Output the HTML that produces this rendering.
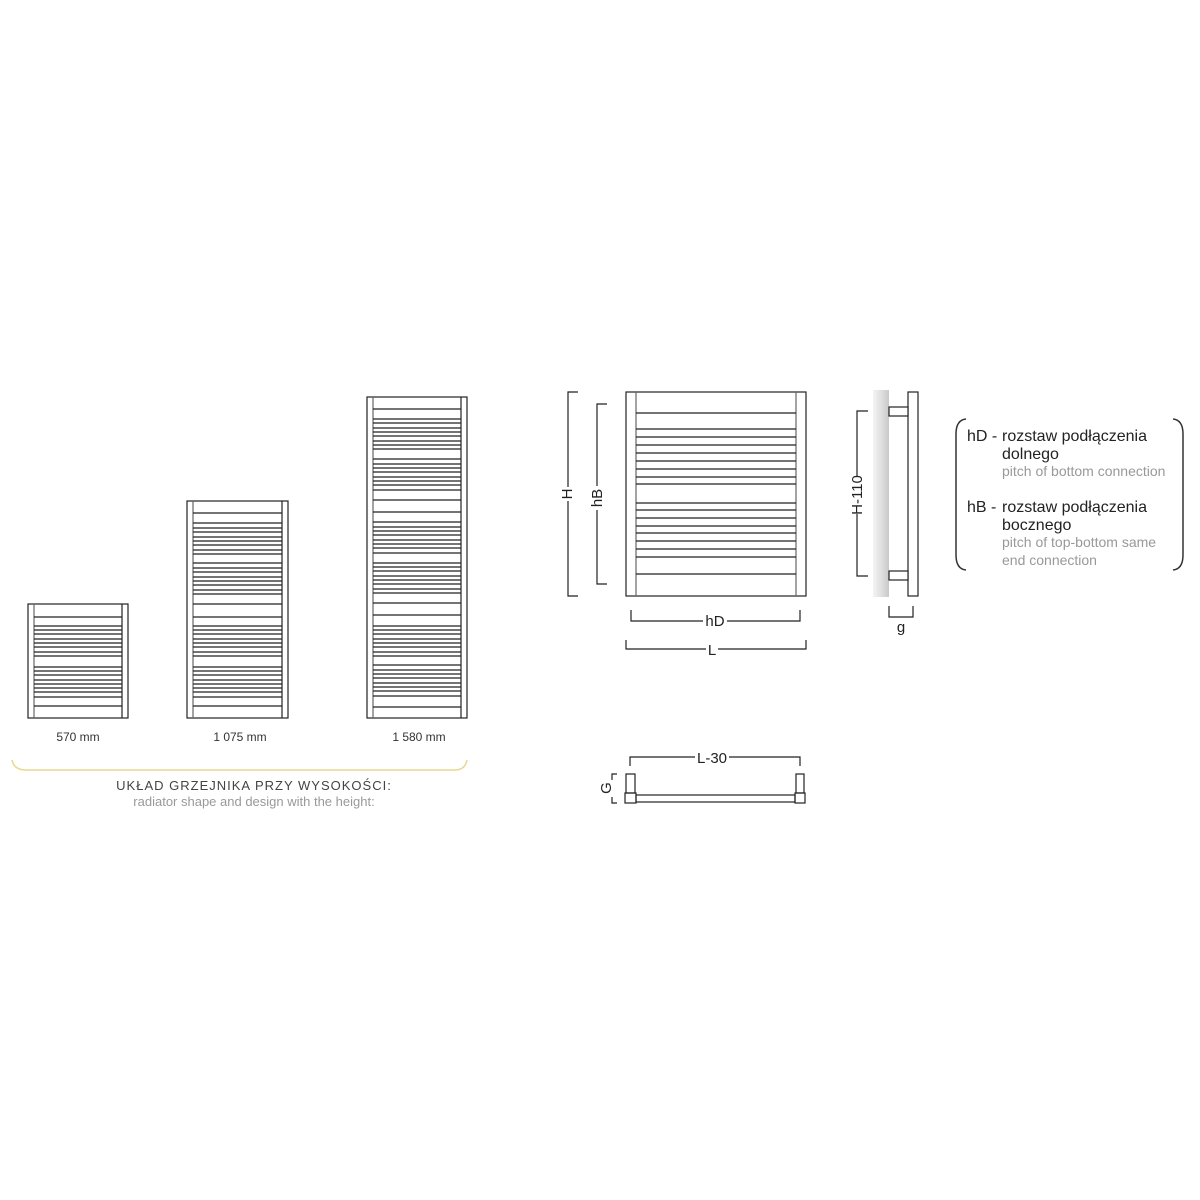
<!DOCTYPE html>
<html><head><meta charset="utf-8"><style>
html,body{margin:0;padding:0;background:#fff;}
svg{display:block;}
text{font-family:"Liberation Sans",sans-serif;}
</style></head><body>
<svg width="1200" height="1200" viewBox="0 0 1200 1200" xmlns="http://www.w3.org/2000/svg">
<defs>
<linearGradient id="wall" x1="0" x2="1" y1="0" y2="0">
<stop offset="0" stop-color="#f4f4f4"/><stop offset="0.6" stop-color="#dcdcdc"/><stop offset="1" stop-color="#c8c8c8"/>
</linearGradient>
</defs>
<rect width="1200" height="1200" fill="#fff"/>
<g fill="none" stroke="#222" stroke-width="1.2">
<rect x="28" y="604" width="100" height="114"/>
<line x1="34" y1="604" x2="34" y2="718" stroke="#666"/>
<line x1="122" y1="604" x2="122" y2="718"/>
<path d="M34 617H122M34 626H122M34 630H122M34 634H122M34 639H122M34 643H122M34 647H122M34 652H122M34 656H122M34 667H122M34 671H122M34 675H122M34 680H122M34 684H122M34 688H122M34 692H122M34 697H122M34 706H122"/>
<rect x="187" y="501" width="101" height="217"/>
<line x1="193" y1="501" x2="193" y2="718" stroke="#666"/>
<line x1="282" y1="501" x2="282" y2="718"/>
<path d="M193 513H282M193 523H282M193 528H282M193 532H282M193 537H282M193 541H282M193 545H282M193 550H282M193 554H282M193 563H282M193 568H282M193 572H282M193 577H282M193 581H282M193 585H282M193 590H282M193 594H282M193 604H282M193 617H282M193 626H282M193 630H282M193 634H282M193 639H282M193 643H282M193 647H282M193 652H282M193 656H282M193 667H282M193 671H282M193 675H282M193 680H282M193 684H282M193 688H282M193 692H282M193 697H282M193 706H282"/>
<rect x="367" y="397" width="100" height="321"/>
<line x1="373" y1="397" x2="373" y2="718" stroke="#666"/>
<line x1="461" y1="397" x2="461" y2="718"/>
<path d="M373 409H461M373 419H461M373 423H461M373 428H461M373 432H461M373 436H461M373 441H461M373 445H461M373 449H461M373 459H461M373 464H461M373 468H461M373 472H461M373 477H461M373 481H461M373 485H461M373 490H461M373 500H461M373 512H461M373 522H461M373 527H461M373 531H461M373 535H461M373 540H461M373 544H461M373 548H461M373 553H461M373 563H461M373 567H461M373 571H461M373 576H461M373 580H461M373 584H461M373 589H461M373 593H461M373 603H461M373 615H461M373 626H461M373 630H461M373 634H461M373 639H461M373 643H461M373 647H461M373 652H461M373 656H461M373 665H461M373 670H461M373 674H461M373 678H461M373 683H461M373 687H461M373 691H461M373 696H461M373 707H461"/>
<rect x="626" y="392" width="180" height="204"/>
<line x1="636" y1="392" x2="636" y2="596" stroke="#666"/>
<line x1="796" y1="392" x2="796" y2="596" stroke="#666"/>
<path d="M636 413H796M636 429H796M636 437H796M636 445H796M636 453H796M636 461H796M636 469H796M636 477H796M636 484H796M636 503H796M636 510H796M636 518H796M636 526H796M636 533H796M636 541H796M636 549H796M636 557H796M636 574H796"/>
<path d="M578 392H568V487M568 501V596H578"/>
<path d="M607 404H597V486M597 510V584H607"/>
<path d="M631 610V621H703M727 621H800V610"/>
<path d="M626 640V649H706M718 649H806V640"/>
<rect x="908" y="392" width="10" height="204"/>
<path d="M868 411H857V476M857 514V576H868"/>
<path d="M889 606V617H913V606"/>
<path d="M630 766V757H695M729 757H800V766"/>
<rect x="626" y="774" width="9" height="19"/>
<rect x="625" y="793" width="11" height="10"/>
<rect x="796" y="774" width="8" height="19"/>
<rect x="795" y="793" width="10" height="10"/>
<rect x="636" y="795" width="159" height="7"/>
<path d="M617 774H612V780M612 797V803H617"/>
</g>
<rect x="873" y="390" width="16" height="207" fill="url(#wall)"/>
<rect x="889" y="407" width="19" height="9" fill="#fff" stroke="#222" stroke-width="1.2"/>
<rect x="889" y="571" width="19" height="9" fill="#fff" stroke="#222" stroke-width="1.2"/>
<g fill="#222" font-size="15">
<text transform="translate(572,494) rotate(-90)" text-anchor="middle">H</text>
<text transform="translate(602,498) rotate(-90)" text-anchor="middle">hB</text>
<text x="715" y="626" text-anchor="middle">hD</text>
<text x="712" y="655" text-anchor="middle">L</text>
<text transform="translate(862,495) rotate(-90)" text-anchor="middle">H-110</text>
<text x="901" y="632" text-anchor="middle">g</text>
<text x="712" y="763" text-anchor="middle">L-30</text>
<text transform="translate(611,788) rotate(-90)" text-anchor="middle">G</text>
</g>
<path d="M966 419Q956 420 956 434V555Q956 569 966 570" fill="none" stroke="#333" stroke-width="1.5"/>
<path d="M1173 419Q1183 420 1183 434V555Q1183 569 1173 570" fill="none" stroke="#333" stroke-width="1.5"/>
<g font-size="16" fill="#222">
<text x="967" y="441">hD -</text>
<text x="1002" y="441">rozstaw podłączenia</text>
<text x="1002" y="459">dolnego</text>
<text x="967" y="512">hB -</text>
<text x="1002" y="512">rozstaw podłączenia</text>
<text x="1002" y="530">bocznego</text>
</g>
<g font-size="14" fill="#999">
<text x="1002" y="476">pitch of bottom connection</text>
<text x="1002" y="547">pitch of top-bottom same</text>
<text x="1002" y="565">end connection</text>
</g>
<g font-size="12" fill="#333" text-anchor="middle">
<text x="78" y="741">570 mm</text>
<text x="240" y="741">1 075 mm</text>
<text x="419" y="741">1 580 mm</text>
</g>
<path d="M12 760Q14 770 26 770H455Q465 770 467 760" fill="none" stroke="#e8d890" stroke-width="1.5"/>
<text x="254" y="790" text-anchor="middle" font-size="13" fill="#444" letter-spacing="1">UKŁAD GRZEJNIKA PRZY WYSOKOŚCI:</text>
<text x="254" y="806" text-anchor="middle" font-size="13" fill="#999">radiator shape and design with the height:</text>
</svg>
</body></html>
